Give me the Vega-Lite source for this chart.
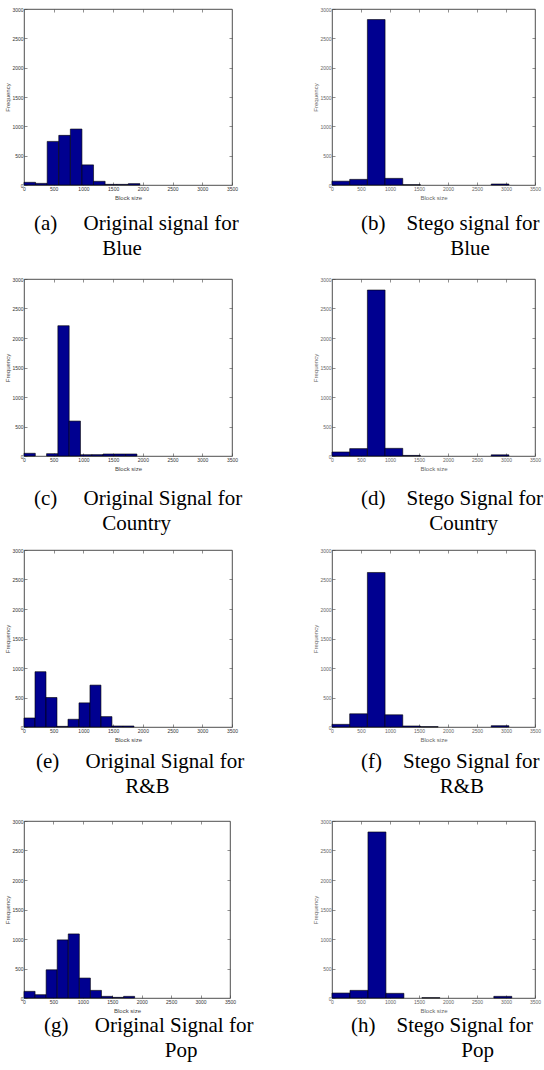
{
  "$schema": "https://vega.github.io/schema/vega-lite/v6.json",
  "padding": {"left": 4, "top": 6, "right": 0, "bottom": 0},
  "background": "white",
  "datasets": {
    "hist": [
      {"panel": "a", "bin_start": 0, "bin_end": 195, "count": 46},
      {"panel": "a", "bin_start": 195, "bin_end": 390, "count": 28},
      {"panel": "a", "bin_start": 390, "bin_end": 585, "count": 743},
      {"panel": "a", "bin_start": 585, "bin_end": 780, "count": 846},
      {"panel": "a", "bin_start": 780, "bin_end": 975, "count": 954},
      {"panel": "a", "bin_start": 975, "bin_end": 1170, "count": 343},
      {"panel": "a", "bin_start": 1170, "bin_end": 1365, "count": 63},
      {"panel": "a", "bin_start": 1365, "bin_end": 1560, "count": 11},
      {"panel": "a", "bin_start": 1560, "bin_end": 1755, "count": 11},
      {"panel": "a", "bin_start": 1755, "bin_end": 1950, "count": 23},
      {"panel": "b", "bin_start": 0, "bin_end": 305, "count": 65},
      {"panel": "b", "bin_start": 305, "bin_end": 610, "count": 96},
      {"panel": "b", "bin_start": 610, "bin_end": 915, "count": 2820},
      {"panel": "b", "bin_start": 915, "bin_end": 1220, "count": 113},
      {"panel": "b", "bin_start": 1220, "bin_end": 1525, "count": 5},
      {"panel": "b", "bin_start": 2745, "bin_end": 3050, "count": 17},
      {"panel": "c", "bin_start": 0, "bin_end": 190, "count": 46},
      {"panel": "c", "bin_start": 380, "bin_end": 570, "count": 40},
      {"panel": "c", "bin_start": 570, "bin_end": 760, "count": 2208},
      {"panel": "c", "bin_start": 760, "bin_end": 950, "count": 592},
      {"panel": "c", "bin_start": 950, "bin_end": 1140, "count": 23},
      {"panel": "c", "bin_start": 1140, "bin_end": 1330, "count": 23},
      {"panel": "c", "bin_start": 1330, "bin_end": 1520, "count": 34},
      {"panel": "c", "bin_start": 1520, "bin_end": 1710, "count": 34},
      {"panel": "c", "bin_start": 1710, "bin_end": 1900, "count": 34},
      {"panel": "d", "bin_start": 0, "bin_end": 305, "count": 68},
      {"panel": "d", "bin_start": 305, "bin_end": 610, "count": 125},
      {"panel": "d", "bin_start": 610, "bin_end": 915, "count": 2813},
      {"panel": "d", "bin_start": 915, "bin_end": 1220, "count": 130},
      {"panel": "d", "bin_start": 1220, "bin_end": 1525, "count": 10},
      {"panel": "d", "bin_start": 2745, "bin_end": 3050, "count": 20},
      {"panel": "e", "bin_start": 0, "bin_end": 185, "count": 153},
      {"panel": "e", "bin_start": 185, "bin_end": 370, "count": 937},
      {"panel": "e", "bin_start": 370, "bin_end": 555, "count": 500},
      {"panel": "e", "bin_start": 555, "bin_end": 740, "count": 11},
      {"panel": "e", "bin_start": 740, "bin_end": 925, "count": 131},
      {"panel": "e", "bin_start": 925, "bin_end": 1110, "count": 409},
      {"panel": "e", "bin_start": 1110, "bin_end": 1295, "count": 710},
      {"panel": "e", "bin_start": 1295, "bin_end": 1480, "count": 176},
      {"panel": "e", "bin_start": 1480, "bin_end": 1665, "count": 17},
      {"panel": "e", "bin_start": 1665, "bin_end": 1850, "count": 17},
      {"panel": "f", "bin_start": 0, "bin_end": 305, "count": 45},
      {"panel": "f", "bin_start": 305, "bin_end": 610, "count": 224},
      {"panel": "f", "bin_start": 610, "bin_end": 915, "count": 2619},
      {"panel": "f", "bin_start": 915, "bin_end": 1220, "count": 207},
      {"panel": "f", "bin_start": 1220, "bin_end": 1525, "count": 17},
      {"panel": "f", "bin_start": 1525, "bin_end": 1830, "count": 6},
      {"panel": "f", "bin_start": 2745, "bin_end": 3050, "count": 22},
      {"panel": "g", "bin_start": 0, "bin_end": 188, "count": 113},
      {"panel": "g", "bin_start": 188, "bin_end": 376, "count": 56},
      {"panel": "g", "bin_start": 376, "bin_end": 564, "count": 478},
      {"panel": "g", "bin_start": 564, "bin_end": 752, "count": 985},
      {"panel": "g", "bin_start": 752, "bin_end": 940, "count": 1086},
      {"panel": "g", "bin_start": 940, "bin_end": 1128, "count": 338},
      {"panel": "g", "bin_start": 1128, "bin_end": 1316, "count": 129},
      {"panel": "g", "bin_start": 1316, "bin_end": 1504, "count": 28},
      {"panel": "g", "bin_start": 1504, "bin_end": 1692, "count": 11},
      {"panel": "g", "bin_start": 1692, "bin_end": 1880, "count": 28},
      {"panel": "h", "bin_start": 0, "bin_end": 310, "count": 84},
      {"panel": "h", "bin_start": 310, "bin_end": 620, "count": 129},
      {"panel": "h", "bin_start": 620, "bin_end": 930, "count": 2814},
      {"panel": "h", "bin_start": 930, "bin_end": 1240, "count": 79},
      {"panel": "h", "bin_start": 1550, "bin_end": 1860, "count": 6},
      {"panel": "h", "bin_start": 2790, "bin_end": 3100, "count": 28}
    ]
  },
  "config": {
    "view": {"stroke": "#222", "strokeWidth": 0.8},
    "axis": {
      "domain": false, "grid": false, "tickSize": -3, "tickColor": "#444", "tickWidth": 0.6,
      "labelFont": "Liberation Sans", "labelFontSize": 5, "labelColor": "#333", "labelPadding": 4,
      "labelOverlap": false, "labelFlush": false,
      "titleFont": "Liberation Sans", "titleFontSize": 6, "titleFontWeight": "normal", "titleColor": "#444", "titlePadding": 1
    },
    "axisX": {"titlePadding": 3},
    "title": {
      "orient": "bottom", "anchor": "start", "frame": "group", "align": "left",
      "font": "Liberation Serif", "fontSize": 21, "fontWeight": "normal", "color": "#000",
      "lineHeight": 25, "offset": 6
    }
  },
  "columns": 2,
  "spacing": {"row": 94, "column": 100},
  "bounds": "flush",
  "concat": [
      {"width": 208, "height": 176, "data": {"name": "hist"}, "transform": [{"filter": "datum.panel === 'a'"}],
       "title": {"text": ["(a)\u00a0\u00a0\u00a0\u00a0\u00a0Original signal for", "\u200b\u00a0\u00a0\u00a0\u00a0\u00a0\u00a0\u00a0\u00a0\u00a0\u00a0\u00a0\u00a0\u00a0Blue"], "dx": 10, "offset": 13},
       "resolve": {"axis": {"x": "independent", "y": "independent"}},
       "layer": [
        {"mark": {"type": "bar", "color": "#000090", "stroke": "#000", "strokeWidth": 0.6},
         "encoding": {
          "x": {"field": "bin_start", "type": "quantitative", "scale": {"domain": [0, 3500], "nice": false}, "axis": {"orient": "bottom", "values": [0, 500, 1000, 1500, 2000, 2500, 3000, 3500], "format": "d", "title": "Block size"}},
          "x2": {"field": "bin_end"},
          "y": {"field": "count", "type": "quantitative", "scale": {"domain": [0, 3000], "nice": false}, "axis": {"orient": "left", "values": [0, 500, 1000, 1500, 2000, 2500, 3000], "format": "d", "title": "Frequency"}},
          "y2": {"datum": 0}}},
        {"mark": {"type": "point", "opacity": 0},
         "encoding": {
          "x": {"field": "bin_start", "type": "quantitative", "scale": {"domain": [0, 3500], "nice": false}, "axis": {"orient": "top", "labels": false, "title": null, "values": [500, 1000, 1500, 2000, 2500, 3000]}},
          "y": {"field": "count", "type": "quantitative", "scale": {"domain": [0, 3000], "nice": false}, "axis": {"orient": "right", "labels": false, "title": null, "values": [500, 1000, 1500, 2000, 2500]}}}}
       ]},
      {"width": 203, "height": 176, "data": {"name": "hist"}, "transform": [{"filter": "datum.panel === 'b'"}],
       "title": {"text": ["(b)\u00a0\u00a0\u00a0\u00a0Stego signal for", "\u200b\u00a0\u00a0\u00a0\u00a0\u00a0\u00a0\u00a0\u00a0\u00a0\u00a0\u00a0\u00a0\u00a0\u00a0\u00a0\u00a0\u00a0Blue"], "dx": 29, "offset": 13},
       "resolve": {"axis": {"x": "independent", "y": "independent"}},
       "layer": [
        {"mark": {"type": "bar", "color": "#000090", "stroke": "#000", "strokeWidth": 0.6},
         "encoding": {
          "x": {"field": "bin_start", "type": "quantitative", "scale": {"domain": [0, 3500], "nice": false}, "axis": {"orient": "bottom", "values": [0, 500, 1000, 1500, 2000, 2500, 3000, 3500], "format": "d", "title": "Block size", "labelColor": "#666", "titleColor": "#666"}},
          "x2": {"field": "bin_end"},
          "y": {"field": "count", "type": "quantitative", "scale": {"domain": [0, 3000], "nice": false}, "axis": {"orient": "left", "values": [0, 500, 1000, 1500, 2000, 2500, 3000], "format": "d", "title": "Frequency", "labelColor": "#666", "titleColor": "#666"}},
          "y2": {"datum": 0}}},
        {"mark": {"type": "point", "opacity": 0},
         "encoding": {
          "x": {"field": "bin_start", "type": "quantitative", "scale": {"domain": [0, 3500], "nice": false}, "axis": {"orient": "top", "labels": false, "title": null, "values": [500, 1000, 1500, 2000, 2500, 3000]}},
          "y": {"field": "count", "type": "quantitative", "scale": {"domain": [0, 3000], "nice": false}, "axis": {"orient": "right", "labels": false, "title": null, "values": [500, 1000, 1500, 2000, 2500]}}}}
       ]},
      {"width": 208, "height": 177, "data": {"name": "hist"}, "transform": [{"filter": "datum.panel === 'c'"}],
       "title": {"text": ["(c)\u00a0\u00a0\u00a0\u00a0\u00a0Original Signal for", "\u200b\u00a0\u00a0\u00a0\u00a0\u00a0\u00a0\u00a0\u00a0\u00a0\u00a0\u00a0\u00a0\u00a0Country"], "dx": 10, "offset": 17},
       "resolve": {"axis": {"x": "independent", "y": "independent"}},
       "layer": [
        {"mark": {"type": "bar", "color": "#000090", "stroke": "#000", "strokeWidth": 0.6},
         "encoding": {
          "x": {"field": "bin_start", "type": "quantitative", "scale": {"domain": [0, 3500], "nice": false}, "axis": {"orient": "bottom", "values": [0, 500, 1000, 1500, 2000, 2500, 3000, 3500], "format": "d", "title": "Block size"}},
          "x2": {"field": "bin_end"},
          "y": {"field": "count", "type": "quantitative", "scale": {"domain": [0, 3000], "nice": false}, "axis": {"orient": "left", "values": [0, 500, 1000, 1500, 2000, 2500, 3000], "format": "d", "title": "Frequency"}},
          "y2": {"datum": 0}}},
        {"mark": {"type": "point", "opacity": 0},
         "encoding": {
          "x": {"field": "bin_start", "type": "quantitative", "scale": {"domain": [0, 3500], "nice": false}, "axis": {"orient": "top", "labels": false, "title": null, "values": [500, 1000, 1500, 2000, 2500, 3000]}},
          "y": {"field": "count", "type": "quantitative", "scale": {"domain": [0, 3000], "nice": false}, "axis": {"orient": "right", "labels": false, "title": null, "values": [500, 1000, 1500, 2000, 2500]}}}}
       ]},
      {"width": 203, "height": 177, "data": {"name": "hist"}, "transform": [{"filter": "datum.panel === 'd'"}],
       "title": {"text": ["(d)\u00a0\u00a0\u00a0\u00a0Stego Signal for", "\u200b\u00a0\u00a0\u00a0\u00a0\u00a0\u00a0\u00a0\u00a0\u00a0\u00a0\u00a0\u00a0\u00a0Country"], "dx": 29, "offset": 17},
       "resolve": {"axis": {"x": "independent", "y": "independent"}},
       "layer": [
        {"mark": {"type": "bar", "color": "#000090", "stroke": "#000", "strokeWidth": 0.6},
         "encoding": {
          "x": {"field": "bin_start", "type": "quantitative", "scale": {"domain": [0, 3500], "nice": false}, "axis": {"orient": "bottom", "values": [0, 500, 1000, 1500, 2000, 2500, 3000, 3500], "format": "d", "title": "Block size", "labelColor": "#666", "titleColor": "#666"}},
          "x2": {"field": "bin_end"},
          "y": {"field": "count", "type": "quantitative", "scale": {"domain": [0, 3000], "nice": false}, "axis": {"orient": "left", "values": [0, 500, 1000, 1500, 2000, 2500, 3000], "format": "d", "title": "Frequency", "labelColor": "#666", "titleColor": "#666"}},
          "y2": {"datum": 0}}},
        {"mark": {"type": "point", "opacity": 0},
         "encoding": {
          "x": {"field": "bin_start", "type": "quantitative", "scale": {"domain": [0, 3500], "nice": false}, "axis": {"orient": "top", "labels": false, "title": null, "values": [500, 1000, 1500, 2000, 2500, 3000]}},
          "y": {"field": "count", "type": "quantitative", "scale": {"domain": [0, 3000], "nice": false}, "axis": {"orient": "right", "labels": false, "title": null, "values": [500, 1000, 1500, 2000, 2500]}}}}
       ]},
      {"width": 208, "height": 177, "data": {"name": "hist"}, "transform": [{"filter": "datum.panel === 'e'"}],
       "title": {"text": ["(e)\u00a0\u00a0\u00a0\u00a0\u00a0Original Signal for", "\u200b\u00a0\u00a0\u00a0\u00a0\u00a0\u00a0\u00a0\u00a0\u00a0\u00a0\u00a0\u00a0\u00a0\u00a0\u00a0\u00a0\u00a0R&B"], "dx": 12, "offset": 9},
       "resolve": {"axis": {"x": "independent", "y": "independent"}},
       "layer": [
        {"mark": {"type": "bar", "color": "#000090", "stroke": "#000", "strokeWidth": 0.6},
         "encoding": {
          "x": {"field": "bin_start", "type": "quantitative", "scale": {"domain": [0, 3500], "nice": false}, "axis": {"orient": "bottom", "values": [0, 500, 1000, 1500, 2000, 2500, 3000, 3500], "format": "d", "title": "Block size"}},
          "x2": {"field": "bin_end"},
          "y": {"field": "count", "type": "quantitative", "scale": {"domain": [0, 3000], "nice": false}, "axis": {"orient": "left", "values": [0, 500, 1000, 1500, 2000, 2500, 3000], "format": "d", "title": "Frequency"}},
          "y2": {"datum": 0}}},
        {"mark": {"type": "point", "opacity": 0},
         "encoding": {
          "x": {"field": "bin_start", "type": "quantitative", "scale": {"domain": [0, 3500], "nice": false}, "axis": {"orient": "top", "labels": false, "title": null, "values": [500, 1000, 1500, 2000, 2500, 3000]}},
          "y": {"field": "count", "type": "quantitative", "scale": {"domain": [0, 3000], "nice": false}, "axis": {"orient": "right", "labels": false, "title": null, "values": [500, 1000, 1500, 2000, 2500]}}}}
       ]},
      {"width": 203, "height": 177, "data": {"name": "hist"}, "transform": [{"filter": "datum.panel === 'f'"}],
       "title": {"text": ["(f)\u00a0\u00a0\u00a0\u00a0Stego Signal for", "\u200b\u00a0\u00a0\u00a0\u00a0\u00a0\u00a0\u00a0\u00a0\u00a0\u00a0\u00a0\u00a0\u00a0\u00a0\u00a0R&B"], "dx": 29, "offset": 9},
       "resolve": {"axis": {"x": "independent", "y": "independent"}},
       "layer": [
        {"mark": {"type": "bar", "color": "#000090", "stroke": "#000", "strokeWidth": 0.6},
         "encoding": {
          "x": {"field": "bin_start", "type": "quantitative", "scale": {"domain": [0, 3500], "nice": false}, "axis": {"orient": "bottom", "values": [0, 500, 1000, 1500, 2000, 2500, 3000, 3500], "format": "d", "title": "Block size", "labelColor": "#666", "titleColor": "#666"}},
          "x2": {"field": "bin_end"},
          "y": {"field": "count", "type": "quantitative", "scale": {"domain": [0, 3000], "nice": false}, "axis": {"orient": "left", "values": [0, 500, 1000, 1500, 2000, 2500, 3000], "format": "d", "title": "Frequency", "labelColor": "#666", "titleColor": "#666"}},
          "y2": {"datum": 0}}},
        {"mark": {"type": "point", "opacity": 0},
         "encoding": {
          "x": {"field": "bin_start", "type": "quantitative", "scale": {"domain": [0, 3500], "nice": false}, "axis": {"orient": "top", "labels": false, "title": null, "values": [500, 1000, 1500, 2000, 2500, 3000]}},
          "y": {"field": "count", "type": "quantitative", "scale": {"domain": [0, 3000], "nice": false}, "axis": {"orient": "right", "labels": false, "title": null, "values": [500, 1000, 1500, 2000, 2500]}}}}
       ]},
      {"width": 206, "height": 177, "data": {"name": "hist"}, "transform": [{"filter": "datum.panel === 'g'"}],
       "title": {"text": ["(g)\u00a0\u00a0\u00a0\u00a0\u00a0Original Signal for", "\u200b\u00a0\u00a0\u00a0\u00a0\u00a0\u00a0\u00a0\u00a0\u00a0\u00a0\u00a0\u00a0\u00a0\u00a0\u00a0\u00a0\u00a0\u00a0\u00a0\u00a0\u00a0\u00a0\u00a0Pop"], "dx": 20, "offset": 2},
       "resolve": {"axis": {"x": "independent", "y": "independent"}},
       "layer": [
        {"mark": {"type": "bar", "color": "#000090", "stroke": "#000", "strokeWidth": 0.6},
         "encoding": {
          "x": {"field": "bin_start", "type": "quantitative", "scale": {"domain": [0, 3500], "nice": false}, "axis": {"orient": "bottom", "values": [0, 500, 1000, 1500, 2000, 2500, 3000, 3500], "format": "d", "title": "Block size"}},
          "x2": {"field": "bin_end"},
          "y": {"field": "count", "type": "quantitative", "scale": {"domain": [0, 3000], "nice": false}, "axis": {"orient": "left", "values": [0, 500, 1000, 1500, 2000, 2500, 3000], "format": "d", "title": "Frequency"}},
          "y2": {"datum": 0}}},
        {"mark": {"type": "point", "opacity": 0},
         "encoding": {
          "x": {"field": "bin_start", "type": "quantitative", "scale": {"domain": [0, 3500], "nice": false}, "axis": {"orient": "top", "labels": false, "title": null, "values": [500, 1000, 1500, 2000, 2500, 3000]}},
          "y": {"field": "count", "type": "quantitative", "scale": {"domain": [0, 3000], "nice": false}, "axis": {"orient": "right", "labels": false, "title": null, "values": [500, 1000, 1500, 2000, 2500]}}}}
       ]},
      {"width": 203, "height": 177, "data": {"name": "hist"}, "transform": [{"filter": "datum.panel === 'h'"}],
       "title": {"text": ["(h)\u00a0\u00a0\u00a0\u00a0Stego Signal for", "\u200b\u00a0\u00a0\u00a0\u00a0\u00a0\u00a0\u00a0\u00a0\u00a0\u00a0\u00a0\u00a0\u00a0\u00a0\u00a0\u00a0\u00a0\u00a0\u00a0\u00a0\u00a0Pop"], "dx": 19, "offset": 2},
       "resolve": {"axis": {"x": "independent", "y": "independent"}},
       "layer": [
        {"mark": {"type": "bar", "color": "#000090", "stroke": "#000", "strokeWidth": 0.6},
         "encoding": {
          "x": {"field": "bin_start", "type": "quantitative", "scale": {"domain": [0, 3500], "nice": false}, "axis": {"orient": "bottom", "values": [0, 500, 1000, 1500, 2000, 2500, 3000, 3500], "format": "d", "title": "Block size", "labelColor": "#666", "titleColor": "#666"}},
          "x2": {"field": "bin_end"},
          "y": {"field": "count", "type": "quantitative", "scale": {"domain": [0, 3000], "nice": false}, "axis": {"orient": "left", "values": [0, 500, 1000, 1500, 2000, 2500, 3000], "format": "d", "title": "Frequency", "labelColor": "#666", "titleColor": "#666"}},
          "y2": {"datum": 0}}},
        {"mark": {"type": "point", "opacity": 0},
         "encoding": {
          "x": {"field": "bin_start", "type": "quantitative", "scale": {"domain": [0, 3500], "nice": false}, "axis": {"orient": "top", "labels": false, "title": null, "values": [500, 1000, 1500, 2000, 2500, 3000]}},
          "y": {"field": "count", "type": "quantitative", "scale": {"domain": [0, 3000], "nice": false}, "axis": {"orient": "right", "labels": false, "title": null, "values": [500, 1000, 1500, 2000, 2500]}}}}
       ]}
  ]
}
